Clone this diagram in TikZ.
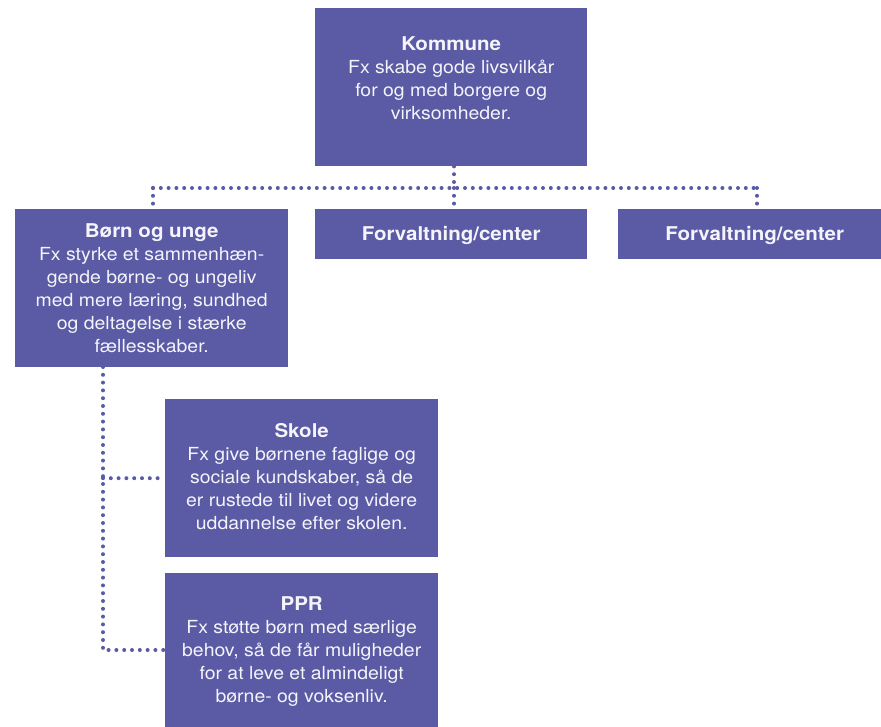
\documentclass[tikz,border=0pt]{standalone}
\usepackage{fontspec}
\setmainfont[FakeStretch=1.08]{TeX Gyre Heros}
\usetikzlibrary{calc}
\definecolor{boxblue}{HTML}{5A5AA5}
\definecolor{txtwhite}{HTML}{F4F4FA}
\newcommand{\ttl}[1]{{\fontsize{19}{23}\selectfont\bfseries #1}}
\begin{document}
\begin{tikzpicture}[x=1pt,y=-1pt,
 box/.style={fill=boxblue, draw=none, inner sep=0pt, anchor=north west},
 txt/.style={text=txtwhite, font=\fontsize{18}{23}\selectfont, align=center, anchor=north, inner sep=0pt},
 dots/.style={draw=boxblue, line width=4pt, line cap=round, dash pattern=on 0pt off 7.8pt}]
\useasboundingbox (0,0) rectangle (881,727);
% boxes
\node[box, minimum width=272pt, minimum height=158pt] (kom) at (315,8) {};
\node[box, minimum width=273pt, minimum height=158pt] (bu) at (15,209) {};
\node[box, minimum width=272pt, minimum height=50pt] (f1) at (315,209) {};
\node[box, minimum width=263pt, minimum height=50pt] (f2) at (618,209) {};
\node[box, minimum width=273pt, minimum height=158pt] (sk) at (165,399) {};
\node[box, minimum width=273pt, minimum height=154pt] (ppr) at (165,573) {};
% texts
\node[txt] (komt) at ($(kom.north)+(0,28.5)$) {\ttl{Kommune}\\Fx skabe gode livsvilkår\\for og med borgere og\\virksomheder.};
\node[txt] (but) at ($(bu.north)+(0,14)$) {\ttl{Børn og unge}\\Fx styrke et sammenhæn-\\gende børne- og ungeliv\\med mere læring, sundhed\\og deltagelse i stærke\\fællesskaber.};
\node[txt, anchor=center] (f1t) at ($(f1.center)+(0,1)$) {\ttl{Forvaltning/center}};
\node[txt, anchor=center] (f2t) at ($(f2.center)+(5,1)$) {\ttl{Forvaltning/center}};
\node[txt] (skt) at ($(sk.north)+(0,24)$) {\ttl{Skole}\\Fx give børnene faglige og\\sociale kundskaber, så de\\er rustede til livet og videre\\uddannelse efter skolen.};
\node[txt] (pprt) at ($(ppr.north)+(0,23)$) {\ttl{PPR}\\Fx støtte børn med særlige\\behov, så de får muligheder\\for at leve et almindeligt\\børne- og voksenliv.};
% connectors
\coordinate (hL) at (153,188);
\coordinate (hM) at (454,188);
\coordinate (hR) at (757,188);
\draw[dots] (hM |- kom.south) -- (hM);
\draw[dots] (hL) -- (hR);
\draw[dots] (hL) -- (hL |- bu.north);
\draw[dots] (hM) -- (hM |- f1.north);
\draw[dots] (hR) -- (hR |- f2.north);
\coordinate (vt) at (103,367);
\coordinate (vb) at (103,650);
\draw[dots] (vt) -- (vb) -- (vb -| ppr.west);
\draw[dots] (vt |- sk.west) -- (sk.west);
\end{tikzpicture}
\end{document}
